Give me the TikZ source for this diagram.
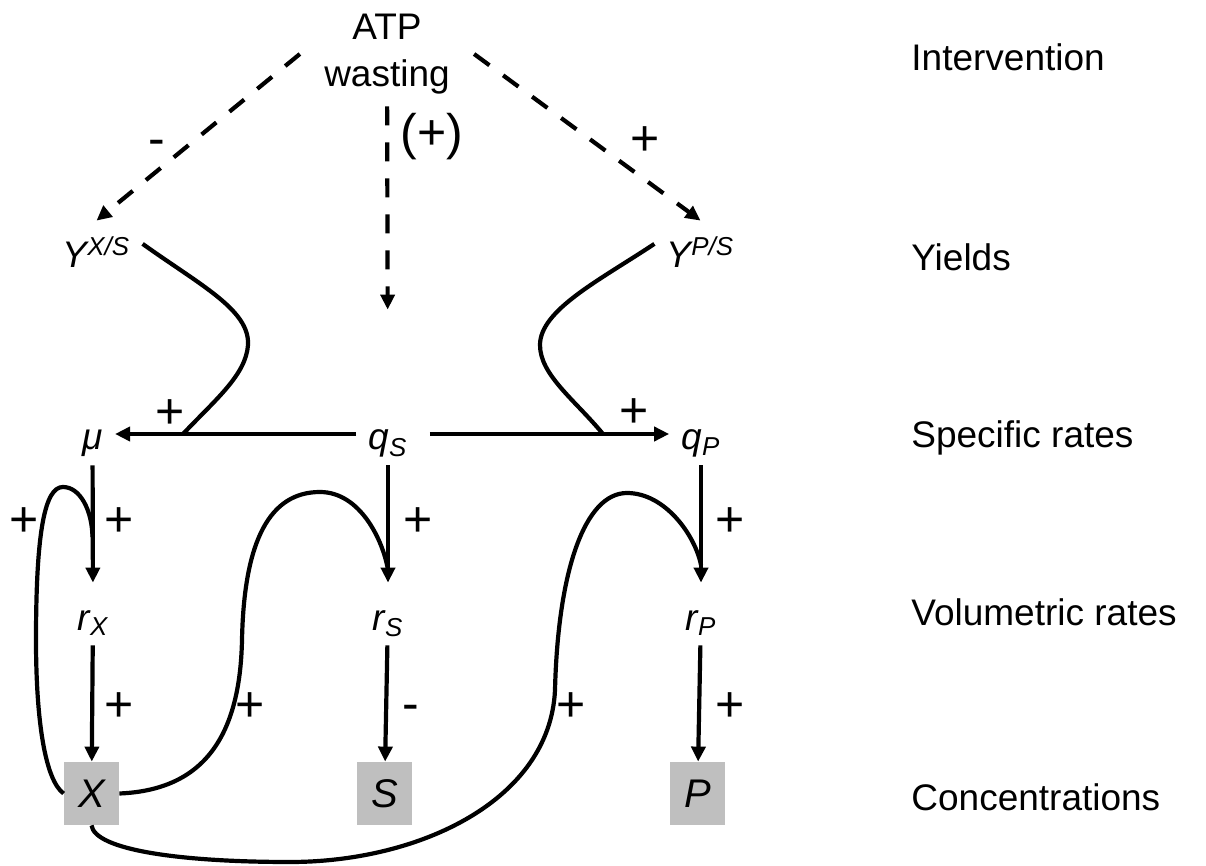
\documentclass[tikz,border=0pt]{standalone}
\usepackage{fontspec}
\setmainfont{Liberation Sans}
\usetikzlibrary{arrows.meta}
\definecolor{cGrey}{HTML}{BFBFBF}
\tikzset{
  txt/.style  = {font=\fontsize{18.5}{23.5}\selectfont},
  lvl/.style  = {txt, anchor=base west, inner sep=0pt},
  vr/.style   = {font=\fontsize{18.5}{23.5}\selectfont\itshape, anchor=base,
                 text height=17.5pt, text depth=1.5pt, inner sep=6pt},
  cbox/.style = {fill=cGrey, minimum width=27.5pt, minimum height=31.5pt, inner sep=0pt,
                 font=\fontsize{20}{24}\selectfont\itshape},
  sgn/.style  = {font=\fontsize{25}{29}\selectfont, inner sep=0pt},
  ar/.style   = {-{Triangle[length=7.5pt,width=7pt]}, line width=2.1pt},
  dar/.style  = {ar, dash pattern=on 9.5pt off 8.5pt},
  crv/.style  = {line width=2.1pt},
}

\begin{document}
\begin{tikzpicture}[x=0.5pt, y=-0.5pt]
  \useasboundingbox (0,0) rectangle (1206,866);
  % levels
  \node[lvl] (lint) at (911,71) {Intervention};
  \node[lvl] (lyld) at (911,271) {Yields};
  \node[lvl] (lspc) at (911,448) {Specific rates};
  \node[lvl] (lvol) at (911,625) {Volumetric rates};
  \node[lvl] (lcon) at (911,810) {Concentrations};
  % intervention
  \node[txt, align=center, inner xsep=12pt, inner ysep=6pt] (atp) at (387,54) {ATP\\wasting};
  % yields
  \node[vr] (yxs) at (96.5,268) {Y\textsuperscript{X/S}};
  \node[vr] (yps) at (700.5,268) {Y\textsuperscript{P/S}};
  % specific rates
  \node[vr] (mu) at (92.5,450) {μ};
  \node[vr] (qs) at (388,450) {q\textsubscript{S}};
  \node[vr] (qp) at (701,450) {q\textsubscript{P}};
  % volumetric rates
  \node[vr] (rx) at (93,630) {r\textsubscript{X}};
  \node[vr] (rs) at (388,630) {r\textsubscript{S}};
  \node[vr] (rp) at (701,630) {r\textsubscript{P}};
  % concentrations
  \node[cbox] (cx) at (91.5,793.5) {X};
  \node[cbox] (cs) at (384.5,793.5) {S};
  \node[cbox] (cp) at (697.5,793.5) {P};

  % join points on arrows
  \coordinate (jmu) at (183,434);
  \coordinate (jqp) at (603,434);
  \coordinate (jrx) at (92.5,537);
  \coordinate (jrs) at (388,570);
  \coordinate (jrp) at (701,565);

  % intervention arrows
  \draw[dar] (atp.west) -- (yxs.north);
  \draw[dar, shorten >=46.5pt] (atp) -- (qs);
  \draw[dar] (atp.east) -- (yps.north);

  % main arrows
  \draw[ar] (qs) -- (mu);
  \draw[ar, shorten <=5pt] (qs) -- (qp);
  \draw[ar] (mu) -- (rx);
  \draw[ar] (qs) -- (rs);
  \draw[ar] (qp) -- (rp);
  \draw[ar] (rx) -- (cx);
  \draw[ar] (rs) -- (cs);
  \draw[ar] (rp) -- (cp);

  % yield influences
  \draw[crv] (yxs.10) .. controls (200,285) and (250,310) .. (248,345)
    .. controls (246,375) and (215,400) .. (jmu);
  \draw[crv] (yps.170) .. controls (600,280) and (540,310) .. (540,345)
    .. controls (540,375) and (575,400) .. (jqp);

  % biomass feedbacks
  \draw[crv] (cx.west) .. controls (45,780) and (36,720) .. (36,640)
    .. controls (36,530) and (45,487) .. (63,487)
    .. controls (80,487) and (92,510) .. (jrx);
  \draw[crv] (cx.east) .. controls (205,790) and (240,735) .. (242,640)
    .. controls (244,540) and (270,492) .. (320,492)
    .. controls (360,492) and (383,540) .. (jrs);
  \draw[crv] (cx.south) .. controls (95,850) and (180,862) .. (290,862)
    .. controls (420,862) and (550,800) .. (555,690)
    .. controls (558,570) and (585,493) .. (627,493)
    .. controls (665,493) and (695,535) .. (jrp);

  % signs
  \node[sgn] (s1) at (157,148) {-};
  \node[sgn] (s2) at (432,137) {(+)};
  \node[sgn] (s3) at (645,141) {+};
  \node[sgn] (s4) at (170,414) {+};
  \node[sgn] (s5) at (634,413) {+};
  \node[sgn] (s6) at (24,522) {+};
  \node[sgn] (s7) at (119,522) {+};
  \node[sgn] (s8) at (418,522) {+};
  \node[sgn] (s9) at (730,522) {+};
  \node[sgn] (s10) at (119,707) {+};
  \node[sgn] (s11) at (250,707) {+};
  \node[sgn] (s12) at (411,713) {-};
  \node[sgn] (s13) at (571,707) {+};
  \node[sgn] (s14) at (730,707) {+};
\end{tikzpicture}
\end{document}
